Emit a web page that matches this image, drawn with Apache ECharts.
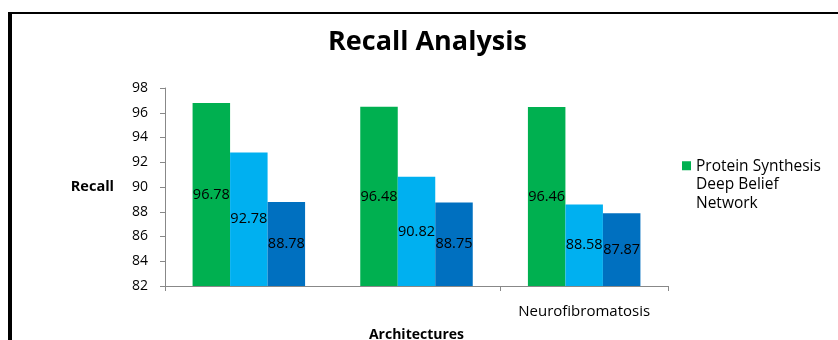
<!DOCTYPE html>
<html>
<head>
<meta charset="utf-8">
<script src="https://cdn.jsdelivr.net/npm/echarts@6/dist/echarts.min.js"></script>
<style>html,body{margin:0;padding:0;background:#fff;}#c{width:838px;height:340px;}</style>
</head>
<body>
<div id="c"></div>
<script>
const categories = ["", "", "Neurofibromatosis"];
const seriesNames = ["Protein Synthesis\nDeep Belief\nNetwork", "Series 2", "Series 3"];
const series1 = [96.78, 96.48, 96.46];
const series2 = [92.78, 90.82, 88.58];
const series3 = [88.78, 88.75, 87.87];
const yTicks = [82, 84, 86, 88, 90, 92, 94, 96, 98];
const colors = ["#00B050", "#00B0F0", "#0070C0"];

const FONT = "Open Sans";
const chart = echarts.init(document.getElementById('c'), null, {renderer: 'canvas'});
const labelCfg = {show: true, position: 'inside', color: '#000', fontFamily: FONT, fontSize: 14.5};
const mk = (name, data, color) => ({
  name, type: 'bar', data, barWidth: 37.5, barGap: '0%',
  itemStyle: {color}, label: labelCfg
});
chart.setOption({
  animation: false,
  textStyle: {fontFamily: FONT},
  title: {
    text: 'Recall Analysis', left: 328, top: 29, padding: 0,
    textStyle: {fontFamily: FONT, fontSize: 27, fontWeight: 'bold', color: '#000'}
  },
  legend: {
    data: [seriesNames[0]], orient: 'vertical', left: 682, top: 157, padding: 0,
    itemWidth: 9, itemHeight: 47,
    icon: 'path://M0,0L9,0L9,9L0,9Z M0,46.98L0.02,46.98L0.02,47L0,47Z',
    textStyle: {fontFamily: FONT, fontSize: 15.5, color: '#000', lineHeight: 18.5}
  },
  graphic: [
    {type: 'rect', shape: {x: 8, y: 12, width: 4, height: 340}, style: {fill: '#000'}},
    {type: 'rect', shape: {x: 8, y: 12, width: 840, height: 2}, style: {fill: '#000'}}
  ],
  grid: {left: 165, right: 170, top: 88, bottom: 54, outerBoundsMode: 'none', containLabel: false},
  xAxis: {
    type: 'category', data: categories,
    name: 'Architectures', nameLocation: 'middle', nameGap: 42,
    nameTextStyle: {fontFamily: FONT, fontSize: 14, fontWeight: 'bold', color: '#000'},
    axisLine: {lineStyle: {color: '#888'}},
    axisTick: {show: true, alignWithLabel: false, length: 5, lineStyle: {color: '#888'}},
    axisLabel: {color: '#000', fontFamily: FONT, fontSize: 15, margin: 18}
  },
  yAxis: {
    type: 'value', min: yTicks[0], max: yTicks[yTicks.length - 1], interval: 2,
    name: 'Recall', nameLocation: 'middle', nameGap: 51, nameRotate: 0,
    nameTextStyle: {fontFamily: FONT, fontSize: 14.5, fontWeight: 'bold', color: '#000'},
    axisLine: {show: true, lineStyle: {color: '#888'}},
    axisTick: {show: true, length: 5, lineStyle: {color: '#888'}},
    splitLine: {show: false},
    axisLabel: {color: '#000', fontFamily: FONT, fontSize: 14, margin: 17}
  },
  series: [
    mk(seriesNames[0], series1, colors[0]),
    mk(seriesNames[1], series2, colors[1]),
    mk(seriesNames[2], series3, colors[2])
  ]
});
</script>
</body>
</html>
